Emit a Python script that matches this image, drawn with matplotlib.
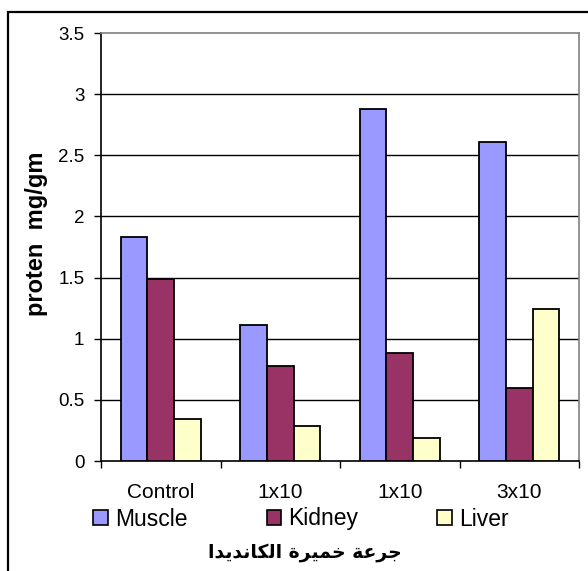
import matplotlib
matplotlib.use("Agg")
import matplotlib.pyplot as plt
import numpy as np
from matplotlib.patches import Patch, Rectangle

plt.rcParams["font.family"] = ["Liberation Sans", "DejaVu Sans"]

# protein content per tissue for each dose
doses = ["Control", "1x10", "1x10", "3x10"]
muscle = [1.83, 1.11, 2.88, 2.61]
kidney = [1.485, 0.78, 0.88, 0.60]
liver = [0.34, 0.285, 0.19, 1.24]
series_names = ["Muscle", "Kidney", "Liver"]
series_colors = ["#9999FF", "#993366", "#FFFFCC"]
y_label = "proten  mg/gm"
x_title = "جرعة خميرة الكانديدا"

# matplotlib does no Arabic joining, so pick presentation forms by hand
FORMS = {  # isolated, final, initial, medial
    "ج": ("\uFE9D", "\uFE9E", "\uFE9F", "\uFEA0"),
    "ر": ("\uFEAD", "\uFEAE", None, None),
    "ع": ("\uFEC9", "\uFECA", "\uFECB", "\uFECC"),
    "ة": ("\uFE93", "\uFE94", None, None),
    "خ": ("\uFEA5", "\uFEA6", "\uFEA7", "\uFEA8"),
    "م": ("\uFEE1", "\uFEE2", "\uFEE3", "\uFEE4"),
    "ي": ("\uFEF1", "\uFEF2", "\uFEF3", "\uFEF4"),
    "ا": ("\uFE8D", "\uFE8E", None, None),
    "ل": ("\uFEDD", "\uFEDE", "\uFEDF", "\uFEE0"),
    "ك": ("\uFED9", "\uFEDA", "\uFEDB", "\uFEDC"),
    "ن": ("\uFEE5", "\uFEE6", "\uFEE7", "\uFEE8"),
    "د": ("\uFEA9", "\uFEAA", None, None),
}


def shape_arabic(text):
    out = []
    for i, c in enumerate(text):
        if c not in FORMS:
            out.append(c)
            continue
        prev = text[i - 1] if i > 0 else ""
        nxt = text[i + 1] if i < len(text) - 1 else ""
        join_prev = prev in FORMS and FORMS[prev][2] is not None
        join_next = nxt in FORMS and FORMS[c][2] is not None
        if join_prev and join_next:
            out.append(FORMS[c][3])
        elif join_prev:
            out.append(FORMS[c][1])
        elif join_next:
            out.append(FORMS[c][2])
        else:
            out.append(FORMS[c][0])
    return "".join(out)[::-1]


W, H = 588, 571
fig = plt.figure(figsize=(W / 100, H / 100), dpi=100)
ax = fig.add_axes([101 / W, 1 - 461 / H, 478 / W, 428 / H])

x = np.arange(len(doses))
bw = 0.222
for k, (vals, col, name) in enumerate(zip([muscle, kidney, liver], series_colors, series_names)):
    ax.bar(x + (k - 1) * bw, vals, bw, color=col, edgecolor="black", linewidth=1.3,
           label=name, zorder=3)

ax.set_xlim(-0.5, len(doses) - 0.5)
ax.set_ylim(0, 3.5)
ax.set_yticks(np.arange(0, 3.51, 0.5))
ax.set_yticklabels(["0", "0.5", "1", "1.5", "2", "2.5", "3", "3.5"], fontsize=13.5)
for yv in np.arange(0.5, 3.01, 0.5):
    ax.axhline(yv, color="black", linewidth=1.0, zorder=1)
ax.tick_params(axis="y", length=5, width=1.0, direction="out", pad=7)

ax.set_xticks(x)
ax.set_xticklabels(doses, fontsize=15)
ax.tick_params(axis="x", length=0, pad=16)
ax.set_xticks(np.arange(-0.5, len(doses), 1.0), minor=True)
ax.tick_params(axis="x", which="minor", length=5, width=1.0, direction="out")

for side in ("left", "bottom"):
    ax.spines[side].set_color("black")
    ax.spines[side].set_linewidth(1.2)
for side in ("top", "right"):
    ax.spines[side].set_color("#808080")
    ax.spines[side].set_linewidth(1.2)

ax.set_ylabel(y_label, fontsize=17, fontweight="bold")
ax.yaxis.set_label_coords(-0.11, 0.53)

handles = [Patch(facecolor=c, edgecolor="black", linewidth=1.2) for c in series_colors]
fig.legend(handles, series_names, loc="center", bbox_to_anchor=(301 / W, 1 - 519 / H),
           ncol=3, frameon=False, fontsize=16.5, handlelength=0.65, handleheight=0.65,
           handletextpad=0.3, columnspacing=3.45, borderpad=0)

fig.text(305 / W, 1 - 553 / H, shape_arabic(x_title), ha="center", va="center",
         fontsize=13.5, fontweight="bold", family=["DejaVu Sans"])

# outer chart border runs off the right and bottom edges
fig.patches.append(Rectangle((8 / W, -0.05), 1.2, 1 - 12 / H + 0.05, transform=fig.transFigure,
                             fill=False, edgecolor="black", linewidth=1.6))

fig.savefig("out.png", dpi=100)
